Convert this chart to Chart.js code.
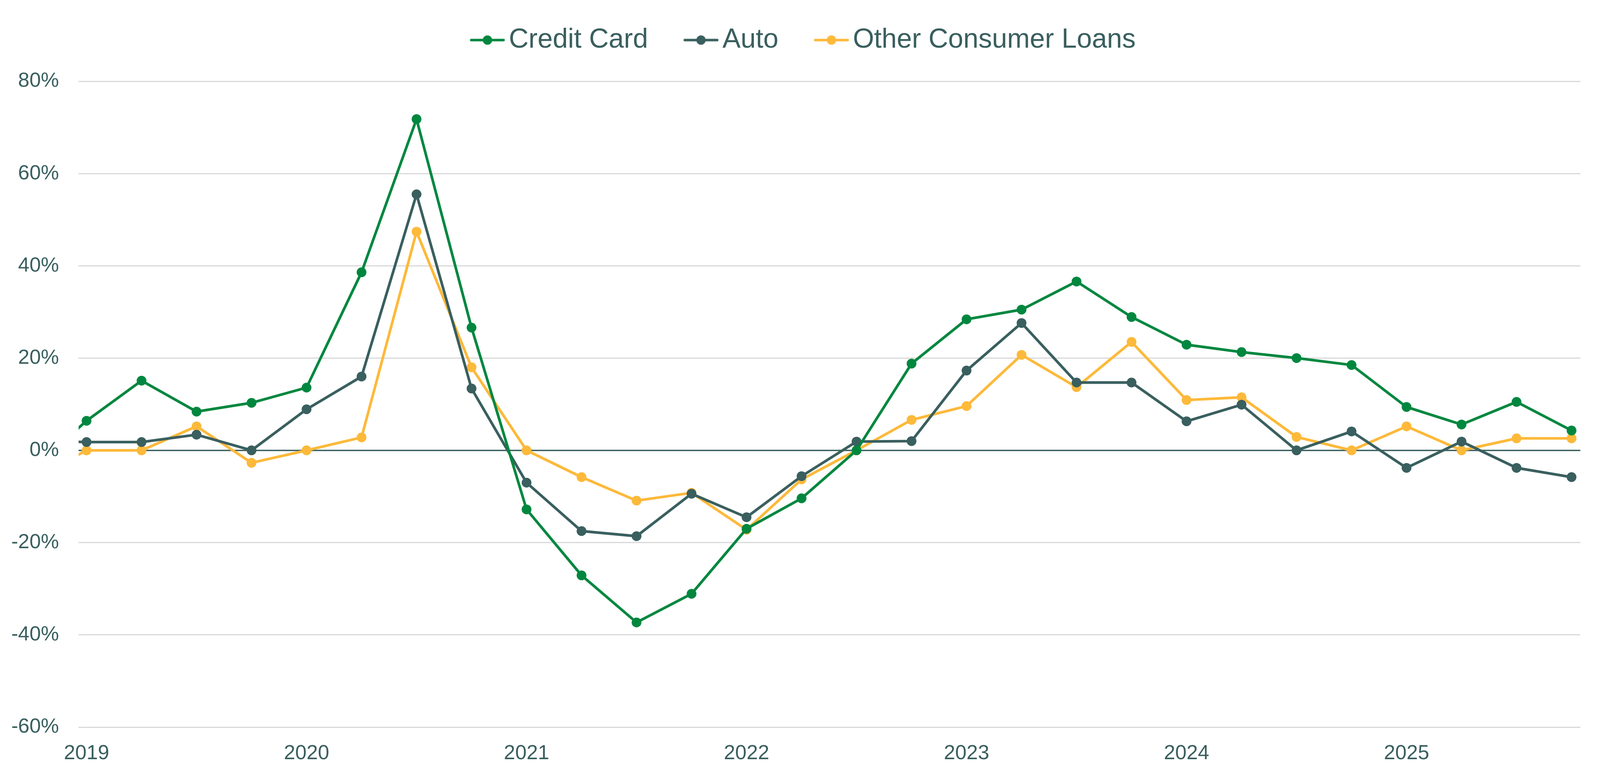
<!DOCTYPE html>
<html>
<head>
<meta charset="utf-8">
<style>
  html, body { margin: 0; padding: 0; background: #fff; overflow: hidden; }
</style>
<script src="https://cdn.jsdelivr.net/npm/chart.js@4/dist/chart.umd.min.js"></script>
</head>
<body>
<div id="wrap"><canvas id="chart"></canvas></div>
<script>
// 분기 (첫 분기는 차트 왼쪽 가장자리 밖)
const quarters = [
  '2018-Q4',
  '2019-Q1', '2019-Q2', '2019-Q3', '2019-Q4',
  '2020-Q1', '2020-Q2', '2020-Q3', '2020-Q4',
  '2021-Q1', '2021-Q2', '2021-Q3', '2021-Q4',
  '2022-Q1', '2022-Q2', '2022-Q3', '2022-Q4',
  '2023-Q1', '2023-Q2', '2023-Q3', '2023-Q4',
  '2024-Q1', '2024-Q2', '2024-Q3', '2024-Q4',
  '2025-Q1', '2025-Q2', '2025-Q3', '2025-Q4'
];
const yearTicks = [2019, 2020, 2021, 2022, 2023, 2024, 2025];
const yTicks = [80, 60, 40, 20, 0, -20, -40, -60];

// 값 (%)
const creditCard = [-4.3,
  6.4, 15.1, 8.4, 10.3,
  13.6, 38.6, 71.8, 26.6,
  -12.8, -27.1, -37.3, -31.1,
  -17.0, -10.4, 0.0, 18.8,
  28.4, 30.5, 36.6, 28.9,
  22.9, 21.3, 20.0, 18.5,
  9.4, 5.6, 10.5, 4.3];
const auto = [2.0,
  1.8, 1.8, 3.4, 0.0,
  8.9, 16.0, 55.5, 13.4,
  -7.0, -17.5, -18.6, -9.4,
  -14.5, -5.6, 1.9, 2.0,
  17.3, 27.6, 14.7, 14.7,
  6.3, 9.9, 0.0, 4.1,
  -3.8, 1.9, -3.8, -5.8];
const otherLoans = [-6.4,
  0.0, 0.0, 5.2, -2.7,
  0.0, 2.8, 47.4, 18.0,
  0.0, -5.8, -10.9, -9.2,
  -17.2, -6.3, 0.0, 6.6,
  9.6, 20.7, 13.7, 23.5,
  10.9, 11.5, 2.9, 0.0,
  5.2, 0.0, 2.6, 2.6];

const GREEN = '#00873F';
const SLATE = '#3A5F5F';
const YELLOW = '#FDB93A';

// 창 크기에 맞추기 (기준 4233x1986)
const W = document.documentElement.clientWidth || window.innerWidth;
const H = document.documentElement.clientHeight || window.innerHeight;
const sx = W / 4233;
const sy = H / 1986;
const px = v => v * sx;
const py = v => v * sy;

const canvas = document.getElementById('chart');
canvas.style.width = W + 'px';
canvas.style.height = H + 'px';
canvas.width = W;
canvas.height = H;

function qToX(q) {
  const [y, n] = q.split('-Q');
  return parseInt(y) + (parseInt(n) - 1) / 4;
}

function toPoints(values) {
  return values.map((v, i) => ({ x: qToX(quarters[i]), y: v }));
}

// 범례 마커: 선 + 원
function legendMarker(color) {
  const w = px(201), h = 30;
  const c = document.createElement('canvas');
  c.width = w; c.height = h;
  const g = c.getContext('2d');
  g.strokeStyle = color;
  g.lineWidth = 6.5;
  g.lineCap = 'round';
  g.beginPath();
  g.moveTo(w - px(92) + 3, h / 2);
  g.lineTo(w - 3, h / 2);
  g.stroke();
  g.fillStyle = color;
  g.beginPath();
  g.arc(w - px(46), h / 2, 12, 0, Math.PI * 2);
  g.fill();
  return c;
}

function makeSet(label, values, color) {
  return {
    label: label,
    data: toPoints(values),
    borderColor: color,
    backgroundColor: color,
    borderWidth: 6.8,
    pointRadius: 12.5,
    pointHoverRadius: 12.5,
    pointBorderWidth: 0,
    tension: 0,
    clip: 0,
    legendMarker: legendMarker(color)
  };
}

// 범례 높이 고정, 살짝 왼쪽으로
const legendFix = {
  id: 'legendFix',
  beforeInit(chart) {
    const fit = chart.legend.fit;
    chart.legend.fit = function () {
      fit.bind(chart.legend)();
      this.height = py(150);
    };
  },
  afterLayout(chart) {
    chart.legend.left -= px(24);
    chart.legend.right -= px(24);
  }
};

Chart.defaults.font.family = '"Liberation Sans", Arial, sans-serif';
Chart.defaults.color = SLATE;

new Chart(canvas, {
  type: 'line',
  plugins: [legendFix],
  data: {
    datasets: [
      makeSet('Credit Card', creditCard, GREEN),
      makeSet('Auto', auto, SLATE),
      makeSet('Other Consumer Loans', otherLoans, YELLOW)
    ]
  },
  options: {
    responsive: false,
    animation: false,
    devicePixelRatio: window.devicePixelRatio || 1,
    layout: { padding: { left: px(31), right: px(52), top: py(58), bottom: 0 } },
    plugins: {
      tooltip: { enabled: false },
      legend: {
        position: 'top',
        labels: {
          font: { size: px(72) },
          color: SLATE,
          usePointStyle: true,
          pointStyleWidth: px(151),
          padding: px(10),
          generateLabels: chart => chart.data.datasets.map((ds, i) => ({
            text: ds.label,
            fontColor: SLATE,
            pointStyle: ds.legendMarker,
            fillStyle: ds.borderColor,
            strokeStyle: ds.borderColor,
            lineWidth: 0,
            hidden: false,
            datasetIndex: i
          }))
        }
      }
    },
    scales: {
      x: {
        type: 'linear',
        min: 2018.964,
        max: 2025.79,
        afterBuildTicks: sc => { sc.ticks = yearTicks.map(v => ({ value: v })); },
        afterFit: sc => { sc.height = py(125); },
        grid: { display: false },
        border: { display: false },
        ticks: {
          font: { size: px(54) },
          color: SLATE,
          padding: py(28),
          maxRotation: 0,
          autoSkip: false,
          callback: v => String(v)
        }
      },
      y: {
        min: -60,
        max: 80,
        afterBuildTicks: sc => { sc.ticks = yTicks.map(v => ({ value: v })); },
        afterFit: sc => { sc.width = px(177); },
        border: { display: false },
        grid: {
          drawTicks: false,
          color: c => c.tick && c.tick.value === 0 ? SLATE : '#D9D9D9',
          lineWidth: c => c.tick && c.tick.value === 0 ? 3.5 : 3
        },
        ticks: {
          font: { size: px(54) },
          color: SLATE,
          padding: px(52),
          callback: v => v + '%'
        }
      }
    }
  }
});
</script>
</body>
</html>
